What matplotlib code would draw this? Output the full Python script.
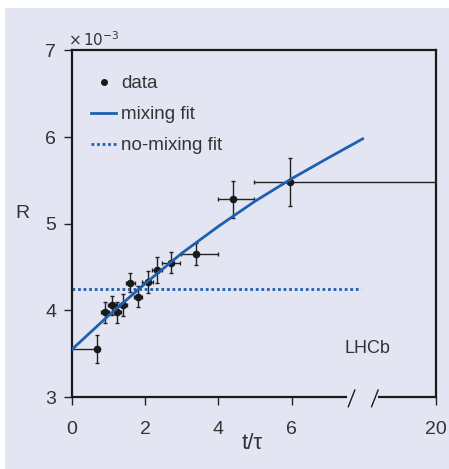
"""D0 -> K+pi- / K-pi+ ratio versus decay time, LHCb style."""

import matplotlib
matplotlib.use("Agg")
import matplotlib.pyplot as plt
import numpy as np
from matplotlib.lines import Line2D
from matplotlib.patches import Rectangle
from matplotlib.scale import FuncScale

# data points (R in units of 1e-3)
t_val = [0.69, 0.90, 1.09, 1.24, 1.39, 1.59, 1.80, 2.07, 2.33, 2.71, 3.40, 4.39, 5.96]
r_val = [3.55, 3.98, 4.06, 3.98, 4.06, 4.32, 4.16, 4.33, 4.47, 4.55, 4.65, 5.28, 5.48]
r_err = [0.16, 0.12, 0.11, 0.12, 0.13, 0.11, 0.12, 0.13, 0.15, 0.12, 0.13, 0.21, 0.28]
t_lo = [0.69, 0.11, 0.10, 0.10, 0.11, 0.12, 0.10, 0.15, 0.14, 0.25, 0.41, 0.41, 0.99]
t_hi = [0.00, 0.11, 0.10, 0.10, 0.11, 0.12, 0.10, 0.15, 0.14, 0.25, 0.58, 0.58, 14.04]

# fit curves
fit_t = [0.0, 1.0, 2.0, 3.0, 4.0, 5.0, 6.0, 7.0, 7.94]
fit_mix = [3.55, 3.94, 4.31, 4.66, 4.97, 5.26, 5.52, 5.76, 5.98]
nomix_t = [0.0, 7.9]
nomix_r = [4.25, 4.25]

x_ticks = [0, 2, 4, 6, 20]
y_ticks = [3, 4, 5, 6, 7]

BG = "#e3e6f2"
BLUE = "#1f5fb0"
TXT = "#333333"
FONT = ["Liberation Sans", "DejaVu Sans"]

plt.rcParams["font.family"] = FONT

K = 1.945 / 12.0


def fwd(x):
    x = np.asarray(x, dtype=float)
    return np.where(x <= 8, x, 8 + (x - 8) * K)


def inv(x):
    x = np.asarray(x, dtype=float)
    return np.where(x <= 8, x, 8 + (x - 8) / K)


fig = plt.figure(figsize=(4.49, 4.69), dpi=100, facecolor="white")
bg = Rectangle((5 / 449, 0), 1 - 5 / 449, 1 - 8 / 469, transform=fig.transFigure,
               facecolor=BG, edgecolor="none", zorder=-10)
fig.add_artist(bg)
ax = fig.add_axes([72 / 449, 1 - 397 / 469, 364 / 449, 346.5 / 469])
ax.set_facecolor(BG)
ax.set_xscale(FuncScale(ax, (fwd, inv)))

ax.errorbar(t_val, r_val, yerr=r_err, xerr=[t_lo, t_hi], fmt="o", color="#1a1a1a", ms=4.5,
            elinewidth=1.0, ecolor="#222222", capsize=1.6, capthick=1.0, zorder=3)
ax.plot(fit_t, fit_mix, color=BLUE, lw=2.0, zorder=4)
ax.plot(nomix_t, nomix_r, color=BLUE, lw=2.0, linestyle=(0, (1, 1)), zorder=2)

ax.set_xlim(0, 20)
ax.set_ylim(3, 7)
ax.set_xticks(x_ticks)
ax.set_yticks(y_ticks)
ax.set_xticklabels([str(v) for v in x_ticks])
ax.tick_params(direction="out", length=5.5, width=1.0, color="#222222", labelsize=14,
               labelcolor=TXT)
ax.tick_params(axis="x", pad=11.5)
ax.tick_params(axis="y", pad=6)

for side in ["left", "top", "right"]:
    ax.spines[side].set_linewidth(1.6)
    ax.spines[side].set_color("#1a1a1a")
ax.spines["bottom"].set_visible(False)

# broken bottom axis
seg = dict(transform=ax.transAxes, color="#1a1a1a", lw=1.6, clip_on=False, solid_capstyle="butt")
ax.plot([0, 0.755], [0, 0], **seg)
ax.plot([0.841, 1], [0, 0], **seg)
ax.plot([0.759, 0.777], [-0.028, 0.020], transform=ax.transAxes, color="#1a1a1a", lw=1.0, clip_on=False)
ax.plot([0.823, 0.841], [-0.028, 0.020], transform=ax.transAxes, color="#1a1a1a", lw=1.0, clip_on=False)

ax.set_ylabel("R", rotation=0, fontsize=14, color=TXT)
ax.yaxis.set_label_coords(-0.136, 0.505)
ax.set_xlabel("t/τ", fontsize=16, color=TXT)
ax.xaxis.set_label_coords(0.495, -0.105)
ax.text(-0.01, 1.005, r"$\times\,10^{-3}$", transform=ax.transAxes, fontsize=11, color=TXT,
        ha="left", va="bottom")
ax.text(0.813, 0.141, "LHCb", transform=ax.transAxes, fontsize=13, color=TXT,
        ha="center", va="center")

handles = [
    Line2D([], [], marker="o", ls="none", color="#1a1a1a", ms=4),
    Line2D([], [], color=BLUE, lw=2.0),
    Line2D([], [], color=BLUE, lw=2.0, ls=(0, (1, 1))),
]
leg = ax.legend(handles, ["data", "mixing fit", "no-mixing fit"], loc="upper left",
                bbox_to_anchor=(0.007, 0.978), frameon=False, fontsize=13.5, handlelength=1.3,
                handletextpad=0.3, labelspacing=0.75)
for txt in leg.get_texts():
    txt.set_color(TXT)

fig.savefig("out.png", dpi=100, facecolor=fig.get_facecolor())
